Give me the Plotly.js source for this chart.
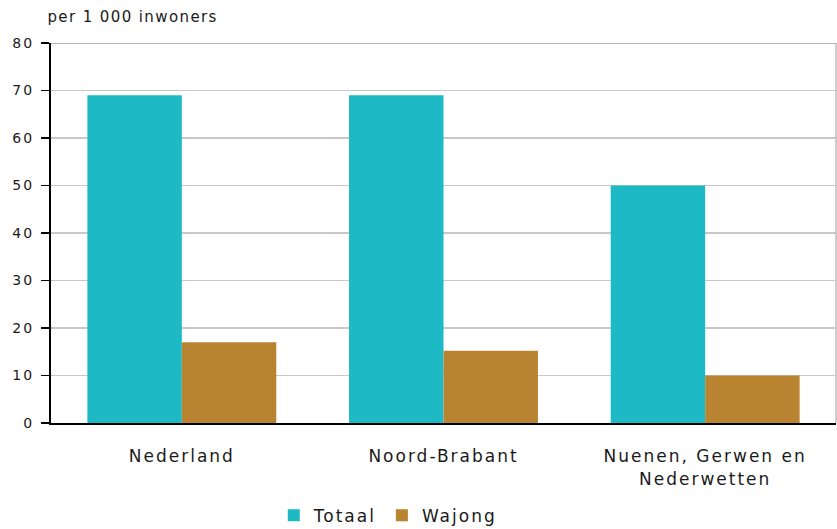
<!DOCTYPE html>
<html><head><meta charset="utf-8">
<script src="https://cdn.plot.ly/plotly-3.0.1.min.js"></script>
<style>html,body{margin:0;padding:0;background:#fff;}#c{width:837px;height:529px;}
svg text{letter-spacing:2px;}
svg .annotation text{letter-spacing:1.4px;}</style>
</head><body><div id="c"></div>
<script>
var categories = ["Nederland", "Noord-Brabant", "Nuenen, Gerwen en<br>Nederwetten"];
var totaal = [69, 69, 50];
var wajong = [17, 15.2, 10];
var seriesNames = ["Totaal", "Wajong"];
var yTicks = [0, 10, 20, 30, 40, 50, 60, 70, 80];

var font = "DejaVu Sans, Verdana, sans-serif";
var data = [
  {type: "bar", name: seriesNames[0], x: categories, y: totaal, marker: {color: "#1DBAC5", line: {width: 0}}},
  {type: "bar", name: seriesNames[1], x: categories, y: wajong, marker: {color: "#B98431", line: {width: 0}}}
];
var layout = {
  width: 837, height: 529,
  margin: {l: 51, r: 1, t: 43, b: 106},
  paper_bgcolor: "#fff", plot_bgcolor: "#fff",
  barmode: "group", bargap: 0.278, bargroupgap: 0,
  font: {family: font, size: 14, color: "#1a1a1a"},
  xaxis: {
    showgrid: false, showline: true, linecolor: "#000", linewidth: 2,
    ticks: "", tickfont: {size: 17, color: "#1a1a1a"}, ticklabelstandoff: 17,
    automargin: false
  },
  yaxis: {
    range: [0, 80], tickvals: yTicks, showgrid: true, gridcolor: "#c8c8c8", gridwidth: 1.5,
    showline: true, linecolor: "#000", linewidth: 2, ticks: "outside", ticklen: 8, tickcolor: "#000", tickwidth: 1.5,
    tickfont: {size: 14, color: "#1a1a1a"}, zeroline: false, ticklabelstandoff: 4, automargin: false
  },
  showlegend: true,
  legend: {orientation: "h", xref: "paper", yref: "container", x: 0.429, xanchor: "center", y: 0.025, yanchor: "middle",
    font: {size: 17, color: "#1a1a1a"}, itemwidth: 30, traceorder: "normal", bgcolor: "rgba(0,0,0,0)"},
  annotations: [{text: "per 1 000 inwoners", xref: "paper", yref: "paper", x: -0.0135, y: 1.068, xanchor: "left", yanchor: "middle", showarrow: false, font: {size: 15, color: "#1a1a1a"}}],
  shapes: [
    {type: "line", xref: "paper", yref: "paper", x0: 1, x1: 1, y0: 0, y1: 1, line: {color: "#bbb", width: 1.5}},
    {type: "line", xref: "paper", yref: "y", x0: 0, x1: 1, y0: 80, y1: 80, line: {color: "#999", width: 1.5}}
  ]
};
Plotly.newPlot("c", data, layout, {staticPlot: true, displayModeBar: false});
</script></body></html>
